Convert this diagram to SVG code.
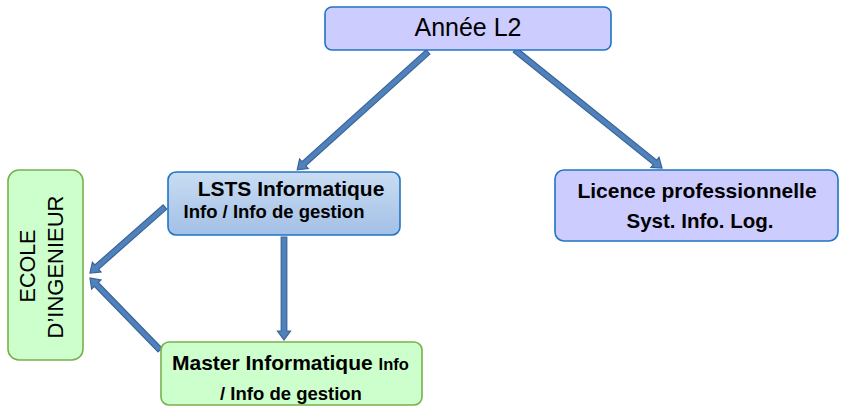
<svg xmlns="http://www.w3.org/2000/svg" width="845" height="407" viewBox="0 0 845 407">
<defs>
<linearGradient id="gBlue" x1="0" y1="0" x2="0" y2="1">
<stop offset="0" stop-color="#c9dcf2"/>
<stop offset="1" stop-color="#a3c0e6"/>
</linearGradient>
</defs>
<style>
.lav{fill:#ccccff;stroke:#1f74c4;stroke-width:1.6}
.blu{fill:url(#gBlue);stroke:#1f74c4;stroke-width:1.6}
.grn{fill:#ccffcc;stroke:#78b04e;stroke-width:1.6}
.t{font-family:"Liberation Sans",Arial,sans-serif;fill:#000}
.b{font-weight:bold}
.arr{fill:#4f81bd;stroke:#3a6496;stroke-width:1.2;stroke-linejoin:miter}
</style>
<rect width="845" height="407" fill="#ffffff"/>
<g id="connectors">
<polygon class="arr" transform="translate(428,52) rotate(138)" points="0,-2.8 167,-2.8 167,-6.5 176,0 167,6.5 167,2.8 0,2.8"/>
<polygon class="arr" transform="translate(515,50) rotate(38.75)" points="0,-2.8 179.5,-2.8 179.5,-6.5 188.5,0 179.5,6.5 179.5,2.8 0,2.8"/>
<polygon class="arr" transform="translate(165,207) rotate(138.65)" points="0,-2.8 91,-2.8 91,-6.5 100,0 91,6.5 91,2.8 0,2.8"/>
<polygon class="arr" transform="translate(160,350) rotate(-134.2)" points="0,-2.8 91.4,-2.8 91.4,-6.5 100.4,0 91.4,6.5 91.4,2.8 0,2.8"/>
<polygon class="arr" transform="translate(284,237) rotate(90)" points="0,-2.8 94,-2.8 94,-6.5 103,0 94,6.5 94,2.8 0,2.8"/>
</g>
<g id="annee">
<rect class="lav" x="325" y="7" width="286" height="43" rx="7"/>
<text class="t" x="468" y="36" font-size="25" text-anchor="middle">Année L2</text>
</g>
<g id="lsts">
<rect class="blu" x="168" y="172" width="232" height="63" rx="8"/>
<text class="t b" x="291" y="196" font-size="21" text-anchor="middle">LSTS Informatique</text>
<text class="t b" x="274" y="218" font-size="18.5" text-anchor="middle">Info / Info de gestion</text>
</g>
<g id="licence">
<rect class="lav" x="555" y="170" width="283" height="71" rx="9"/>
<text class="t b" x="697" y="198" font-size="21" text-anchor="middle">Licence professionnelle</text>
<text class="t b" x="700" y="228" font-size="20.5" text-anchor="middle">Syst. Info. Log.</text>
</g>
<g id="ecole">
<rect class="grn" x="8" y="170" width="75" height="190" rx="11"/>
<text class="t" transform="translate(35,266) rotate(-90)" font-size="21.5" text-anchor="middle">ECOLE</text>
<text class="t" transform="translate(63,267) rotate(-90)" font-size="22" text-anchor="middle">D’INGENIEUR</text>
</g>
<g id="master">
<rect class="grn" x="161" y="342" width="261" height="63" rx="8"/>
<text class="t b" x="172" y="370" font-size="21">Master Informatique <tspan font-size="16.5">Info</tspan></text>
<text class="t b" x="291" y="400" font-size="18.5" text-anchor="middle">/ Info de gestion</text>
</g>
</svg>
